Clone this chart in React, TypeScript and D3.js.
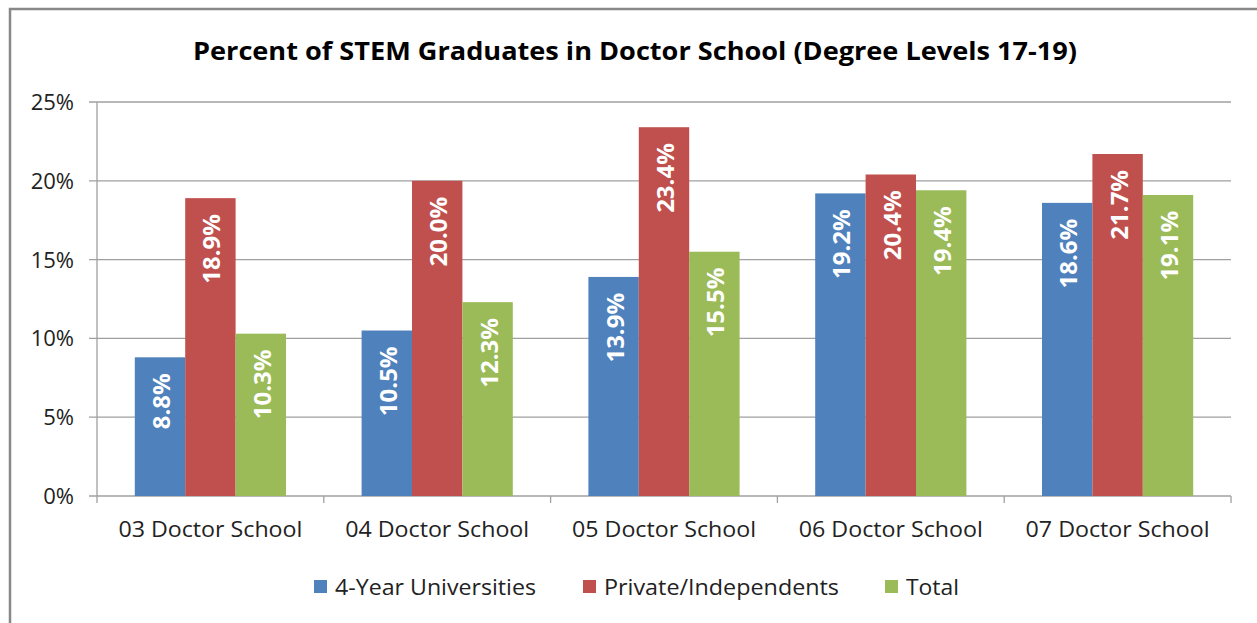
import React from "react";
import * as d3 from "d3";

const categories = ["03 Doctor School", "04 Doctor School", "05 Doctor School", "06 Doctor School", "07 Doctor School"];
const seriesNames = ["4-Year Universities", "Private/Independents", "Total"];
const fourYear = [8.8, 10.5, 13.9, 19.2, 18.6];
const privateInd = [18.9, 20.0, 23.4, 20.4, 21.7];
const total = [10.3, 12.3, 15.5, 19.4, 19.1];
const yTicks = [0, 5, 10, 15, 20, 25];
const colors = ["#4F81BD", "#C0504D", "#9BBB59"];

const W = 1257, H = 623;
const FONT = "'Open Sans', 'Noto Sans', sans-serif";

export default function App() {
  const series = [fourYear, privateInd, total];
  const left = 97, right = 1231, top = 102, bottom = 496;
  const x0 = d3.scaleBand<string>().domain(categories).range([left, right]).paddingInner(0).paddingOuter(0);
  const x1 = d3.scaleBand<string>().domain(seriesNames).range([0, x0.bandwidth()]).paddingInner(0).paddingOuter(0.75);
  const y = d3.scaleLinear().domain([0, 25]).range([bottom, top]);
  const legendX = [314, 583, 885];
  const legendLen = [201, 235, 53];

  return (
    <svg width={W} height={H} style={{ position: "absolute", left: 0, top: 0, display: "block" }}>
      <rect x={0} y={0} width={W} height={H} fill="#fff" />
      <rect x={10} y={9} width={W + 10} height={H + 10} fill="none" stroke="#888" strokeWidth={2.5} />
      <text x={635} y={60} textAnchor="middle" fontFamily={FONT} fontWeight="bold" fontSize={25} fill="#000" textLength={884} lengthAdjust="spacingAndGlyphs">
        Percent of STEM Graduates in Doctor School (Degree Levels 17-19)
      </text>
      {yTicks.map((t) => (
        <g key={t}>
          <line x1={left - 8} x2={right} y1={y(t)} y2={y(t)} stroke="#A0A0A0" strokeWidth={1.3} />
          <text x={74} y={y(t) + 8} textAnchor="end" fontFamily={FONT} fontSize={22} fill="#222">{t}%</text>
        </g>
      ))}
      <line x1={left} x2={left} y1={top} y2={bottom + 7} stroke="#A0A0A0" strokeWidth={1.3} />
      {categories.map((c) => (
        <line key={c} x1={x0(c)! + x0.bandwidth()} x2={x0(c)! + x0.bandwidth()} y1={bottom} y2={bottom + 7} stroke="#A0A0A0" strokeWidth={1.3} />
      ))}
      {categories.map((c, i) => (
        <g key={c}>
          {series.map((s, j) => {
            const bx = x0(c)! + x1(seriesNames[j])!;
            const bw = x1.bandwidth();
            const by = y(s[i]);
            return (
              <g key={j}>
                <rect x={bx} y={by} width={bw} height={bottom - by} fill={colors[j]} />
                <text
                  transform={`translate(${bx + bw / 2 + 10},${by + 16}) rotate(-90)`}
                  textAnchor="end"
                  fontFamily={FONT}
                  fontWeight="bold"
                  fontSize={24}
                  fill="#fff"
                >
                  {s[i].toFixed(1)}%
                </text>
              </g>
            );
          })}
          <text x={x0(c)! + x0.bandwidth() / 2} y={537} textAnchor="middle" fontFamily={FONT} fontSize={22} fill="#222" textLength={184} lengthAdjust="spacingAndGlyphs">{c}</text>
        </g>
      ))}
      {seriesNames.map((n, j) => {
        const lx = legendX[j];
        return (
          <g key={n}>
            <rect x={lx} y={580} width={13} height={13} fill={colors[j]} />
            <text x={lx + 21} y={595} fontFamily={FONT} fontSize={22} fill="#222" textLength={legendLen[j]} lengthAdjust="spacingAndGlyphs">{n}</text>
          </g>
        );
      })}
    </svg>
  );
}
